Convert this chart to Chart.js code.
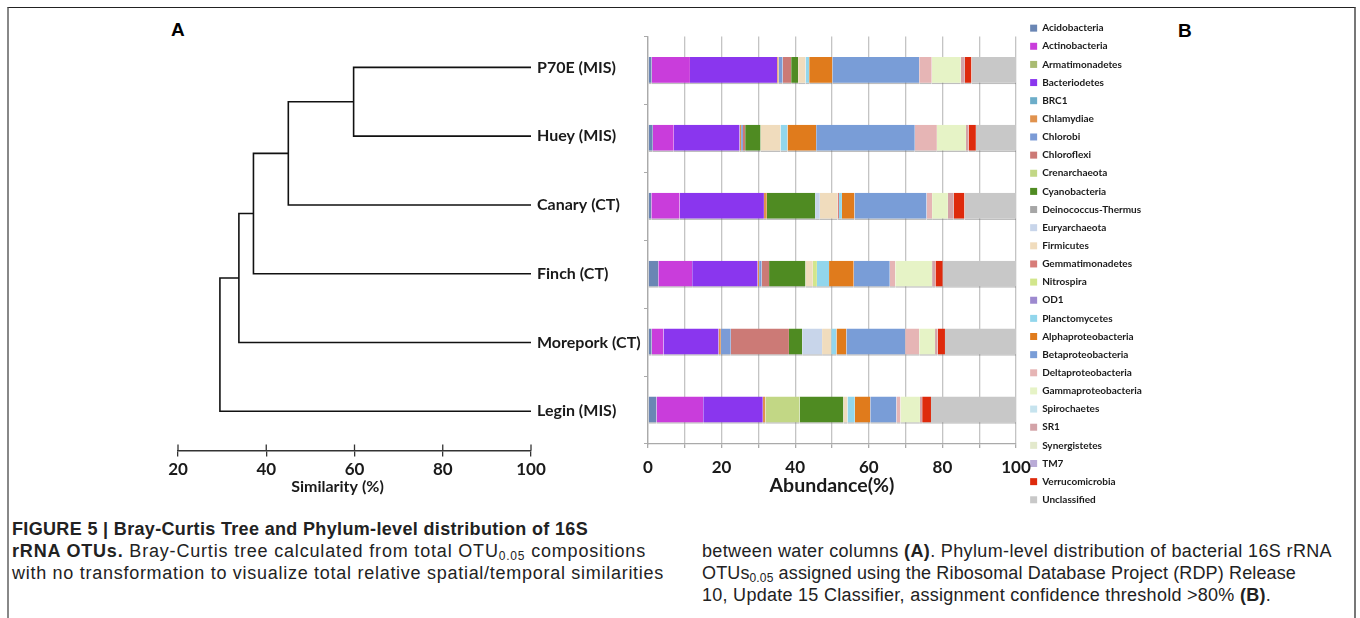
<!DOCTYPE html>
<html>
<head>
<meta charset="utf-8">
<script src="https://cdn.jsdelivr.net/npm/chart.js@4.4.0/dist/chart.umd.min.js"></script>
<style>
  html, body { margin: 0; padding: 0; background: #fff; }
  body { width: 1360px; height: 618px; position: relative; overflow: hidden; font-family: 'Liberation Sans', Arial, sans-serif; color: #222; }
  .frame { position: absolute; left: 7px; top: 7px; width: 1345px; height: 640px; border-top: 1px solid #222; border-left: 2px solid #888; border-right: 2px solid #777; }
  .panel { position: absolute; font: bold 19px 'Liberation Sans', Arial, sans-serif; color: #000; }
  canvas { position: absolute; }
  .cap { position: absolute; font-size: 18px; line-height: 22px; height: 22px; white-space: nowrap; color: #222; }
  .cap sub { font-size: 12px; vertical-align: -3px; line-height: 0; }
</style>
</head>
<body>
<div class="frame"></div>
<div class="panel" style="left:171px; top:19px;">A</div>
<div class="panel" style="left:1178px; top:20px;">B</div>
<canvas id="tree" width="675" height="510" style="left:0; top:0;"></canvas>
<canvas id="bars" width="600" height="525" style="left:600px; top:0;"></canvas>
<div class="cap" data-w="576" style="left:12px; top:518px;"><b>FIGURE 5 | Bray-Curtis Tree and Phylum-level distribution of 16S</b></div>
<div class="cap" data-w="634" style="left:12px; top:540px;"><b>rRNA OTUs.</b> Bray-Curtis tree calculated from total OTU<sub>0.05</sub> compositions</div>
<div class="cap" data-w="652" style="left:12px; top:562px;">with no transformation to visualize total relative spatial/temporal similarities</div>
<div class="cap" data-w="630" style="left:702px; top:540px;">between water columns <b>(A)</b>. Phylum-level distribution of bacterial 16S rRNA</div>
<div class="cap" data-w="594" style="left:702px; top:562px;">OTUs<sub>0.05</sub> assigned using the Ribosomal Database Project (RDP) Release</div>
<div class="cap" data-w="569" style="left:702px; top:584px;">10, Update 15 Classifier, assignment confidence threshold &gt;80% <b>(B)</b>.</div>
<script>
// samples (tree leaves and bar rows)
const leafNames = ['P70E (MIS)', 'Huey (MIS)', 'Canary (CT)', 'Finch (CT)', 'Morepork (CT)', 'Legin (MIS)'];

// tree joins: ids >= 6 point at earlier joins
const joinPairs = [[0, 1], [6, 2], [7, 3], [8, 4], [9, 5]];
const joinSimilarity = [59.8, 45.0, 37.1, 33.8, 29.5];
const similarityTicks = [20, 40, 60, 80, 100];

// phylum abundance (%), order: P70E, Huey, Canary, Finch, Morepork, Legin
const acidobacteria = [1.0, 1.3, 0.9, 2.8, 1.0, 2.3];
const actinobacteria = [10.4, 5.7, 7.7, 9.2, 3.2, 12.7];
const armatimonadetes = [0, 0, 0, 0, 0, 0];
const bacteriodetes = [23.7, 17.9, 22.9, 17.8, 15.0, 16.2];
const brc1 = [0, 0, 0, 0, 0, 0];
const chlamydiae = [0.4, 0.4, 0.8, 0.4, 0.6, 0.7];
const chlorobi = [1.1, 0.5, 0, 0.7, 2.7, 0];
const chloroflexi = [2.3, 0.6, 0, 2.0, 15.8, 0];
const crenarchaeota = [0, 0, 0, 0, 0, 9.3];
const cyanobacteria = [1.9, 4.2, 13.1, 9.9, 3.6, 11.9];
const deinococcus = [0, 0, 0, 0, 0, 0];
const euryarchaeota = [0, 0, 1.3, 0, 5.4, 0];
const firmicutes = [2.0, 5.4, 4.8, 2.0, 2.5, 1.1];
const gemmatimonadetes = [0, 0, 0.4, 0, 0, 0];
const nitrospira = [0, 0, 0, 1.1, 0, 0];
const od1 = [0, 0, 0, 0, 0, 0];
const planctomycetes = [1.0, 1.9, 0.8, 3.3, 1.4, 2.0];
const alphaproteo = [6.3, 7.8, 3.4, 6.7, 2.7, 4.2];
const betaproteo = [23.6, 26.8, 19.6, 9.8, 16.0, 7.1];
const deltaproteo = [3.4, 6.0, 1.5, 1.5, 3.8, 1.1];
const gammaproteo = [7.9, 7.9, 4.3, 10.0, 4.3, 5.3];
const spirochaetes = [0, 0, 0, 0, 0, 0];
const sr1 = [1.1, 0.7, 1.6, 0.9, 0.7, 0.6];
const synergistetes = [0, 0, 0, 0, 0, 0];
const tm7 = [0, 0, 0, 0, 0, 0];
const verrucomicrobia = [1.8, 2.0, 2.9, 2.0, 2.0, 2.4];
const unclassified = [12.1, 10.9, 14.0, 19.9, 19.3, 23.1];

const phylumNames = ['Acidobacteria', 'Actinobacteria', 'Armatimonadetes', 'Bacteriodetes', 'BRC1', 'Chlamydiae',
  'Chlorobi', 'Chloroflexi', 'Crenarchaeota', 'Cyanobacteria', 'Deinococcus-Thermus', 'Euryarchaeota', 'Firmicutes',
  'Gemmatimonadetes', 'Nitrospira', 'OD1', 'Planctomycetes', 'Alphaproteobacteria', 'Betaproteobacteria',
  'Deltaproteobacteria', 'Gammaproteobacteria', 'Spirochaetes', 'SR1', 'Synergistetes', 'TM7', 'Verrucomicrobia',
  'Unclassified'];
const phylumValues = [acidobacteria, actinobacteria, armatimonadetes, bacteriodetes, brc1, chlamydiae,
  chlorobi, chloroflexi, crenarchaeota, cyanobacteria, deinococcus, euryarchaeota, firmicutes,
  gemmatimonadetes, nitrospira, od1, planctomycetes, alphaproteo, betaproteo,
  deltaproteo, gammaproteo, spirochaetes, sr1, synergistetes, tm7, verrucomicrobia, unclassified];
const phylumColors = ['#6a86b4', '#c93ddb', '#a9bb72', '#8a36ee', '#6cadc9', '#e0924e',
  '#7b9bd6', '#cc7a76', '#c2d785', '#4f8b22', '#a6a6a6', '#c8d5ea', '#f0dcbd',
  '#d77c78', '#d2e68c', '#9d89cf', '#92d6ec', '#e07b1c', '#799dd7',
  '#e6b5b5', '#e6f3c6', '#c6e3ee', '#d3a3a8', '#e3e9cc', '#b9abd6', '#de2a0c',
  '#c8c8c8'];

const boldFont = (size) => ({ family: 'Lato, "Open Sans", sans-serif', size: size, weight: 'bold' });
const textColor = '#1a1a1a';

// build tree brackets from the joins
const nodes = leafNames.map((n, i) => ({ x: 100, y: i }));
const treeSegments = joinPairs.map(function (pair, k) {
  const a = nodes[pair[0]], b = nodes[pair[1]], s = joinSimilarity[k];
  nodes.push({ x: s, y: (a.y + b.y) / 2 });
  return {
    data: [{ x: a.x, y: a.y }, { x: s, y: a.y }, { x: s, y: b.y }, { x: b.x, y: b.y }],
    showLine: true, borderColor: '#111', borderWidth: 1.6, pointRadius: 0, tension: 0
  };
});

// ticks that cross the axis line (upper half)
const crossTicks = {
  id: 'crossTicks',
  afterDraw(chart) {
    const s = chart.scales.x, ctx = chart.ctx;
    ctx.save();
    ctx.strokeStyle = '#333';
    ctx.lineWidth = 1.3;
    s.ticks.forEach(function (t) {
      const px = s.getPixelForValue(t.value);
      ctx.beginPath();
      ctx.moveTo(px, s.top);
      ctx.lineTo(px, s.top - 6);
      ctx.stroke();
    });
    ctx.restore();
  }
};

new Chart(document.getElementById('tree'), {
  type: 'scatter',
  data: { datasets: treeSegments },
  options: {
    responsive: false,
    animation: false,
    layout: { padding: { top: 33, bottom: 0, left: 0, right: 0 } },
    scales: {
      x: {
        type: 'linear', min: 20, max: 100,
        afterBuildTicks: s => { s.ticks = similarityTicks.map(v => ({ value: v })); },
        ticks: { color: textColor, font: boldFont(17), padding: 3, maxRotation: 0 },
        grid: { drawOnChartArea: false, tickLength: 6, color: '#333', lineWidth: 1.3 },
        border: { color: '#333', width: 1.5 },
        afterFit: s => { s.height = 26.3; }
      },
      y: {
        type: 'linear', min: -0.5, max: 5.57, reverse: true,
        ticks: { display: false }, grid: { display: false }, border: { display: false },
        afterFit: s => { s.width = 178; }
      },
      y2: {
        type: 'linear', position: 'right', min: -0.5, max: 5.57, reverse: true,
        afterBuildTicks: s => { s.ticks = leafNames.map((n, i) => ({ value: i })); },
        ticks: { callback: v => leafNames[v], crossAlign: 'near', padding: 6, color: textColor, font: boldFont(16) },
        grid: { display: false, drawTicks: false }, border: { display: false },
        afterFit: s => { s.width = 144; }
      }
    },
    plugins: {
      legend: { display: false },
      tooltip: { enabled: false },
      title: {
        display: true, position: 'bottom', text: 'Similarity (%)',
        color: textColor, font: boldFont(16), padding: { top: 0, bottom: 14 }
      }
    }
  },
  plugins: [crossTicks]
});

// stacked phylum bars
const barChart = new Chart(document.getElementById('bars'), {
  type: 'bar',
  data: {
    labels: leafNames,
    datasets: phylumNames.map((name, i) => ({
      label: name,
      data: phylumValues[i],
      backgroundColor: phylumColors[i],
      borderColor: 'rgba(110, 110, 110, 0.45)',
      borderWidth: { top: 0, left: 0, right: 0, bottom: 1.5 },
      borderSkipped: false,
      categoryPercentage: 1,
      barPercentage: 0.4
    }))
  },
  options: {
    indexAxis: 'y',
    responsive: false,
    animation: false,
    layout: { padding: { top: 15, right: 0, bottom: 0, left: 0 } },
    scales: {
      x: {
        stacked: true, min: 0, max: 100,
        ticks: {
          stepSize: 10, autoSkip: false, maxRotation: 0, padding: 9,
          color: textColor, font: boldFont(17),
          callback: v => (v % 20 === 0 ? v : '')
        },
        grid: { color: '#c4c4c4', lineWidth: 1.3, tickLength: 4, tickColor: '#aaa' },
        border: { color: '#aaa', width: 1.3 },
        title: { display: true, text: 'Abundance(%)', color: textColor, font: boldFont(19.5), padding: { top: 0, bottom: 28 } },
        afterFit: s => { s.height = 81; }
      },
      y: {
        stacked: true,
        ticks: { display: false },
        grid: { drawOnChartArea: false, tickLength: 4, color: '#aaa' },
        border: { color: '#aaa', width: 1.3 },
        afterFit: s => { s.width = 48; }
      },
      yr: {
        position: 'right',
        ticks: { display: false }, grid: { display: false, drawTicks: false }, border: { display: false },
        afterFit: s => { s.width = 6; }
      }
    },
    plugins: {
      tooltip: { enabled: false },
      title: { display: true, text: '', padding: 0, font: { size: 18 } },
      legend: {
        position: 'right', align: 'start', maxWidth: 240,
        labels: {
          boxWidth: 7, boxHeight: 7, padding: 8.14, color: textColor, font: boldFont(10),
          generateLabels: chart => chart.data.datasets.map((ds, i) => ({
            text: ds.label, fillStyle: ds.backgroundColor, strokeStyle: ds.backgroundColor,
            lineWidth: 0, hidden: false, datasetIndex: i, fontColor: textColor
          }))
        }
      }
    }
  }
});

// line the plot area up with x = 1016 on the page
const shift = barChart.chartArea.right - 416;
barChart.options.layout.padding.right = Math.max(0, shift);
barChart.update();

// stretch each caption line to the width it has in the figure
document.querySelectorAll('.cap').forEach(function (el) {
  const target = parseFloat(el.dataset.w);
  const chars = el.textContent.length;
  const extra = (target - el.getBoundingClientRect().width) / chars;
  el.style.letterSpacing = extra.toFixed(3) + 'px';
});
</script>
</body>
</html>
